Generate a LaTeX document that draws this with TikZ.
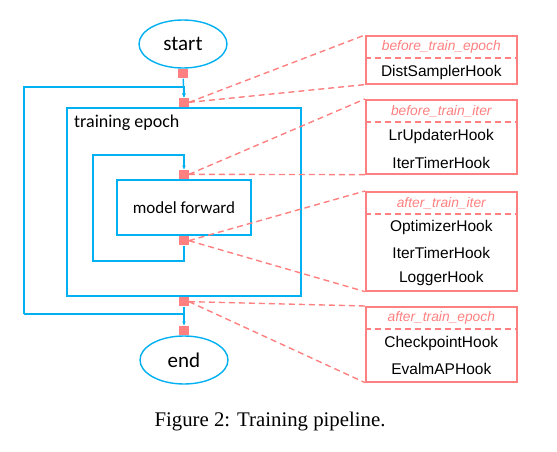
\documentclass[tikz,border=0pt]{standalone}
\usepackage{fontspec}
\setmainfont{Liberation Serif}
\newfontfamily\flowfont{Carlito}
\newfontfamily\hookfont{Liberation Sans}
\usetikzlibrary{shapes.geometric, positioning, arrows.meta}
\definecolor{flowblue}{RGB}{0,176,240}
\definecolor{hookred}{RGB}{255,128,128}

\begin{document}
\begin{tikzpicture}[x=1pt, y=-1pt,
    flow/.style={draw=flowblue, line width=1.4pt},
    flowarrow/.style={flow, -{Stealth[length=4pt, width=3.5pt]}},
    terminal/.style={ellipse, draw=flowblue, line width=1.4pt, minimum width=88pt, minimum height=48pt, inner sep=0pt, font=\flowfont\fontsize{21}{24}\selectfont},
    stage/.style={draw=flowblue, line width=1.4pt, inner sep=0pt},
    hooksq/.style={fill=hookred, minimum size=9.5pt, inner sep=0pt},
    hookbox/.style={draw=hookred, line width=1.6pt, minimum width=151pt, inner sep=0pt, anchor=north west},
    hooktitle/.style={text=hookred, font=\hookfont\itshape\fontsize{13.8}{16}\selectfont},
    hookname/.style={font=\hookfont\fontsize{15.5}{18}\selectfont},
    hookline/.style={draw=hookred, dash pattern=on 6pt off 4pt, line width=1.4pt},
  ]
    \useasboundingbox (0,0) rectangle (557,452);

    % main loop
    \node[terminal] (start) at (183,44) {start};
    \node[stage, minimum width=234pt, minimum height=188pt] (epoch) at (184,202) {};
    \node[anchor=north west, inner sep=0pt, font=\flowfont\fontsize{18}{20}\selectfont] (epochlabel) at (74,115) {training epoch};
    \node[stage, minimum width=134pt, minimum height=55pt, font=\flowfont\fontsize{17}{20}\selectfont] (model) at (184,207.5) {model forward};
    \node[terminal] (end) at (184,360) {end};

    \node[hooksq, below=0pt of start] (s0) {};
    \node[hooksq, above=0pt of epoch] (s1) {};
    \node[hooksq, above=0pt of model] (s2) {};
    \node[hooksq, below=0pt of model] (s3) {};
    \node[hooksq, below=0pt of epoch] (s4) {};
    \node[hooksq, above=0pt of end] (s5) {};

    \coordinate (outtop) at (24,87);
    \coordinate (outbot) at (24,314);
    \coordinate (intop) at (93,155);
    \coordinate (inbot) at (93,261);

    \draw[flowarrow] (s0) -- (s1.north);
    \draw[flowarrow] (outbot) -- (outtop) -- (outtop -| s1) -- (s1.north);
    \draw[flowarrow] (s3.south) -- (s3 |- inbot) -- (inbot) -- (intop) -- (intop -| s2) -- (s2.north);
    \draw[flowarrow] (s4.south) -- (s5.north);
    \draw[flow] (outbot) -- (outbot -| s4);

    % hook boxes
    \node[hookbox, minimum height=48pt] (b1) at (365,35) {};
    \node[hookbox, minimum height=74pt] (b2) at (365,99) {};
    \node[hookbox, minimum height=99pt] (b3) at (365,191) {};
    \node[hookbox, minimum height=75pt] (b4) at (365,306) {};

    \node[hooktitle] (t1) at ([yshift=-12pt]b1.north) {before\_train\_epoch};
    \node[hooktitle] (t2) at ([yshift=-12pt]b2.north) {before\_train\_iter};
    \node[hooktitle] (t3) at ([yshift=-12pt]b3.north) {after\_train\_iter};
    \node[hooktitle] (t4) at ([yshift=-12pt]b4.north) {after\_train\_epoch};

    \foreach \b in {b1,b2,b3,b4}
      \draw[hookline, line width=1.2pt] ([yshift=-23pt]\b.north west) -- ([yshift=-23pt]\b.north east);

    \node[hookname] (h11) at ([yshift=-37pt]b1.north) {DistSamplerHook};
    \node[hookname] (h21) at ([yshift=-37pt]b2.north) {LrUpdaterHook};
    \node[hookname] (h22) at ([yshift=-64pt]b2.north) {IterTimerHook};
    \node[hookname] (h31) at ([yshift=-36pt]b3.north) {OptimizerHook};
    \node[hookname] (h32) at ([yshift=-62pt]b3.north) {IterTimerHook};
    \node[hookname] (h33) at ([yshift=-87pt]b3.north) {LoggerHook};
    \node[hookname] (h41) at ([yshift=-37pt]b4.north) {CheckpointHook};
    \node[hookname] (h42) at ([yshift=-63pt]b4.north) {EvalmAPHook};

    % hook connectors
    \draw[hookline] (s1.east) -- (b1.north west) (s1.east) -- (b1.south west);
    \draw[hookline] (s2.east) -- (b2.north west) (s2.east) -- (b2.south west);
    \draw[hookline] (s3.east) -- (b3.north west) (s3.east) -- (b3.south west);
    \draw[hookline] (s4.east) -- (b4.north west) (s4.east) -- (b4.south west);

    \node[font=\fontsize{20.8}{24}\selectfont] (caption) at (270,422) {Figure 2: Training pipeline.};
  \end{tikzpicture}
\end{document}
